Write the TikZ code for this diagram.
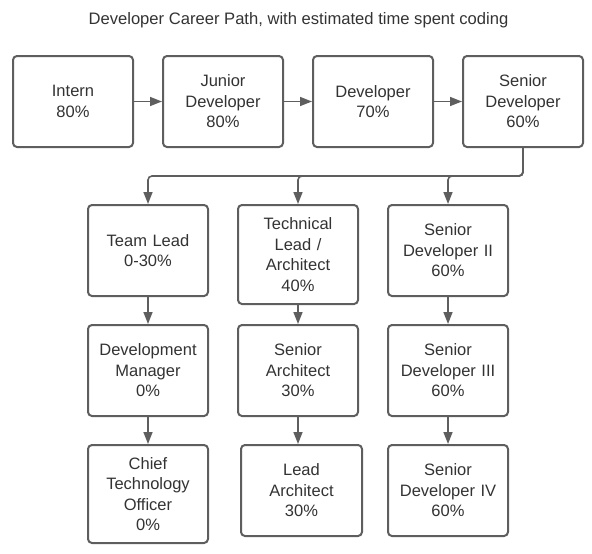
\documentclass[tikz,border=0pt]{standalone}
\usepackage{fontspec}
\setmainfont{Liberation Sans}
\usetikzlibrary{arrows.meta}
\definecolor{edge}{HTML}{5E5E5E}
\definecolor{ink}{HTML}{333333}
\begin{document}
\begin{tikzpicture}[x=1pt,y=-1pt,
  box/.style={draw=edge, line width=2pt, rounded corners=4pt, fill=white,
    minimum width=120pt, minimum height=91pt, text width=114pt, align=center,
    inner sep=0pt, text=ink, font=\fontsize{16.5pt}{20.5pt}\selectfont},
  conn/.style={draw=edge, line width=1.6pt, -{Triangle[length=12pt,width=9pt]}},
  title/.style={text=ink, font=\fontsize{16.6pt}{20pt}\selectfont, inner sep=0pt}]
\useasboundingbox (0,0) rectangle (592,554);
\node[title] (t) at (298.5,20) {Developer Career Path, with estimated time spent coding};
% top row
\node[box] (intern) at (73,101.5) {Intern\\80\%};
\node[box] (jr) at (223,101.5) {Junior\\Developer\\80\%};
\node[box] (dev) at (373,101.5) {Developer\\70\%};
\node[box] (sr) at (523,101.5) {Senior\\Developer\\60\%};
% second row
\node[box] (tl) at (148,250.5) {Team Lead\\0-30\%};
\node[box, minimum height=99pt] (ta) at (298,254.5) {Technical\\Lead /\\Architect\\40\%};
\node[box] (sd2) at (448,250.5) {Senior\\Developer II\\60\%};
% third row
\node[box] (dm) at (148,370.5) {Development\\Manager\\0\%};
\node[box] (sa) at (298,370.5) {Senior\\Architect\\30\%};
\node[box] (sd3) at (448,370.5) {Senior\\Developer III\\60\%};
% fourth row
\node[box, minimum height=98pt] (cto) at (148,494) {Chief\\Technology\\Officer\\0\%};
\node[box, minimum width=121pt] (la) at (301.5,490.5) {Lead\\Architect\\30\%};
\node[box] (sd4) at (448,490.5) {Senior\\Developer IV\\60\%};
% connectors
\draw[conn] (intern) -- (jr);
\draw[conn] (jr) -- (dev);
\draw[conn] (dev) -- (sr);
\coordinate (bus) at (0,176);
\draw[conn, rounded corners=4pt] (sr.south) -- (sr.south |- bus) -| (tl.north);
\draw[conn, rounded corners=4pt] (sr.south) -- (sr.south |- bus) -| (ta.north);
\draw[conn, rounded corners=4pt] (sr.south) -- (sr.south |- bus) -| (sd2.north);
\draw[conn] (tl) -- (dm);
\draw[conn] (ta) -- (sa);
\draw[conn] (sd2) -- (sd3);
\draw[conn] (dm) -- (cto);
\draw[conn] (sa.south) -- (sa.south |- la.north);
\draw[conn] (sd3) -- (sd4);
\end{tikzpicture}
\end{document}
